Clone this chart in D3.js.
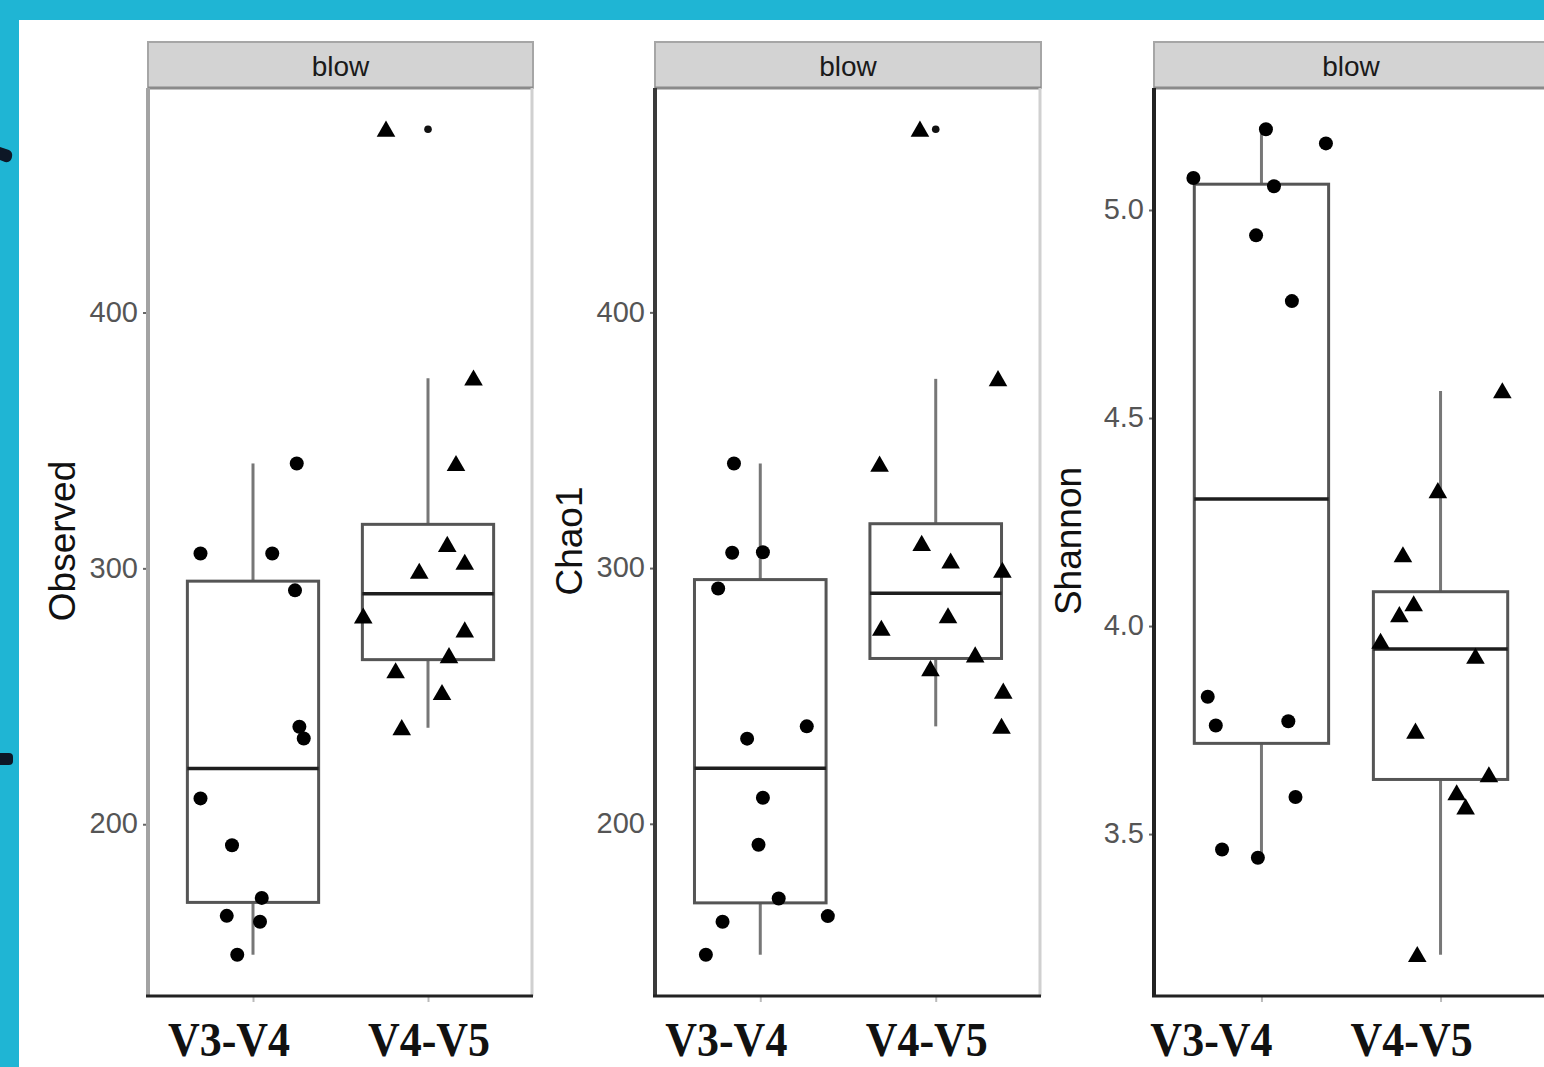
<!DOCTYPE html>
<html>
<head>
<meta charset="utf-8">
<script src="https://cdn.jsdelivr.net/npm/d3@7"></script>
<style>
  body { margin: 0; background: #1fb5d4; }
  svg { display: block; }
</style>
</head>
<body>
<svg id="chart" width="1544" height="1067"></svg>
<script>
// ---- data ----
const groups = ["V3-V4", "V4-V5"];
const facetLabel = "blow";
const metrics = ["Observed", "Chao1", "Shannon"];

const observedV34 = [305.8, 305.8, 341.0, 291.4, 238.1, 233.5, 210.1, 191.8, 171.2, 164.2, 161.9, 149.0];
const observedV34Jitter = [-0.30, 0.11, 0.25, 0.24, 0.265, 0.29, -0.30, -0.12, 0.05, -0.15, 0.04, -0.09];
const observedV45 = [374.3, 340.9, 309.3, 302.3, 298.8, 281.3, 275.9, 265.8, 259.9, 251.4, 237.7, 471.6];
const observedV45Jitter = [0.26, 0.16, 0.11, 0.21, -0.05, -0.37, 0.21, 0.12, -0.185, 0.08, -0.15, -0.24];

const chao1V34 = [340.9, 306.0, 306.2, 292.0, 238.1, 233.3, 210.2, 191.8, 170.8, 163.9, 161.7, 148.8];
const chao1V34Jitter = [-0.15, -0.16, 0.015, -0.24, 0.265, -0.075, 0.015, -0.01, 0.105, 0.385, -0.215, -0.31];
const chao1V45 = [374.0, 340.6, 309.6, 302.7, 299.1, 281.3, 276.4, 266.0, 260.6, 251.8, 238.1, 471.6];
const chao1V45Jitter = [0.355, -0.32, -0.08, 0.085, 0.38, 0.07, -0.31, 0.225, -0.03, 0.385, 0.375, -0.09];

const shannonV34 = [5.194, 5.160, 5.077, 5.057, 4.939, 4.781, 3.830, 3.761, 3.771, 3.589, 3.463, 3.443];
const shannonV34Jitter = [0.025, 0.36, -0.38, 0.07, -0.03, 0.17, -0.30, -0.255, 0.15, 0.19, -0.22, -0.02];
const shannonV45 = [4.565, 4.325, 4.171, 4.053, 4.027, 3.963, 3.927, 3.747, 3.642, 3.599, 3.565, 3.210];
const shannonV45Jitter = [0.345, -0.015, -0.21, -0.15, -0.23, -0.335, 0.195, -0.14, 0.27, 0.09, 0.14, -0.13];

const countTicks = [200, 300, 400];
const shannonTicks = [3.5, 4.0, 4.5, 5.0];

// ---- layout ----
const W = 1544, H = 1067;
const stripTop = 42, plotTop = 88, plotBottom = 996;
const panelX = [[148, 533], [655, 1041], [1154, 1548]];
const labelShift = [[-24, 1], [-34, -9], [-50, -29]];
const leftAxisColor = ["#a3a3a3", "#3a3a3a", "#222"];

const panels = [
  { metric: metrics[0], series: [[observedV34, observedV34Jitter], [observedV45, observedV45Jitter]], ticks: countTicks, fmt: d3.format("d") },
  { metric: metrics[1], series: [[chao1V34, chao1V34Jitter], [chao1V45, chao1V45Jitter]], ticks: countTicks, fmt: d3.format("d") },
  { metric: metrics[2], series: [[shannonV34, shannonV34Jitter], [shannonV45, shannonV45Jitter]], ticks: shannonTicks, fmt: d3.format(".1f") }
];

const svg = d3.select("#chart");

// cyan frame + white page
svg.append("rect").attr("width", W).attr("height", H).attr("fill", "#1fb5d4");
svg.append("rect").attr("x", 19).attr("y", 20).attr("width", W - 19).attr("height", H - 20).attr("fill", "#fff");
// dark fragments on the frame edge
svg.append("path").attr("d", "M0,147 L9,150 Q13,152 12,157 Q11,163 5,162 L0,160 Z").attr("fill", "#0d1726");
svg.append("rect").attr("x", -4).attr("y", 753).attr("width", 17).attr("height", 12).attr("rx", 4).attr("fill", "#0d1726");

function boxStats(values) {
  const s = values.slice().sort(d3.ascending);
  const q1 = d3.quantile(s, 0.25), med = d3.quantile(s, 0.5), q3 = d3.quantile(s, 0.75);
  const iqr = q3 - q1;
  const lo = d3.min(s.filter(v => v >= q1 - 1.5 * iqr));
  const hi = d3.max(s.filter(v => v <= q3 + 1.5 * iqr));
  const outliers = s.filter(v => v < lo || v > hi);
  return { q1, med, q3, lo, hi, outliers };
}

const tri = d3.symbol().type(d3.symbolTriangle).size(150);

panels.forEach((p, i) => {
  const [x0, x1] = panelX[i];
  const all = p.series.flatMap(s => s[0]);
  const ext = d3.extent(all);
  const pad = (ext[1] - ext[0]) * 0.05;

  const x = d3.scaleLinear().domain([0.4, 2.6]).range([x0, x1]);
  const y = d3.scaleLinear().domain([ext[0] - pad, ext[1] + pad]).range([plotBottom, plotTop]);
  const unit = x(2) - x(1);

  const g = svg.append("g");

  // strip
  g.append("rect")
    .attr("x", x0).attr("y", stripTop)
    .attr("width", x1 - x0).attr("height", plotTop - stripTop)
    .attr("fill", "#d3d3d3").attr("stroke", "#a6a6a6").attr("stroke-width", 2);
  g.append("line")
    .attr("x1", x0).attr("x2", x1).attr("y1", plotTop).attr("y2", plotTop)
    .attr("stroke", "#8a8a8a").attr("stroke-width", 3);
  g.append("text")
    .attr("x", (x0 + x1) / 2).attr("y", stripTop + 34)
    .attr("text-anchor", "middle")
    .attr("font-family", "Liberation Sans, Arial, sans-serif")
    .attr("font-size", 28).attr("fill", "#1a1a1a")
    .text(facetLabel);

  // right border
  g.append("line")
    .attr("x1", x1 - 1).attr("x2", x1 - 1).attr("y1", plotTop).attr("y2", plotBottom)
    .attr("stroke", "#d0d0d0").attr("stroke-width", 3);

  // y axis
  const yAxis = g.append("g")
    .attr("transform", `translate(${x0},0)`)
    .call(d3.axisLeft(y).tickValues(p.ticks).tickFormat(p.fmt).tickSize(5).tickPadding(5));
  yAxis.select(".domain").remove();
  yAxis.selectAll(".tick line").attr("stroke", "#666").attr("stroke-width", 2);
  yAxis.selectAll(".tick text")
    .attr("font-family", "Liberation Sans, Arial, sans-serif")
    .attr("font-size", 29).attr("fill", "#555").attr("dy", "0.3em");
  g.append("line")
    .attr("x1", x0).attr("x2", x0).attr("y1", plotTop).attr("y2", plotBottom + 1)
    .attr("stroke", leftAxisColor[i]).attr("stroke-width", 4);

  // x axis
  const xAxis = g.append("g")
    .attr("transform", `translate(0,${plotBottom})`)
    .call(d3.axisBottom(x).tickValues([1, 2]).tickFormat("").tickSize(6));
  xAxis.select(".domain").remove();
  xAxis.selectAll(".tick line").attr("stroke", "#bbb").attr("stroke-width", 2);
  g.append("line")
    .attr("x1", x0 - 2).attr("x2", x1).attr("y1", plotBottom).attr("y2", plotBottom)
    .attr("stroke", "#222").attr("stroke-width", 3);

  groups.forEach((grp, k) => {
    g.append("text")
      .attr("transform", `translate(${x(k + 1) + labelShift[i][k]},1056) scale(1,1.1)`)
      .attr("text-anchor", "middle")
      .attr("font-family", "Liberation Serif, Times New Roman, serif")
      .attr("font-weight", "bold")
      .attr("font-size", 44).attr("fill", "#111")
      .text(grp);
  });

  // y title
  g.append("text")
    .attr("transform", `translate(${x0 - 73},${(plotTop + plotBottom) / 2 - 1}) rotate(-90)`)
    .attr("text-anchor", "middle")
    .attr("font-family", "Liberation Sans, Arial, sans-serif")
    .attr("font-size", 37).attr("fill", "#111")
    .text(p.metric);

  // boxplots
  p.series.forEach(([vals], k) => {
    const st = boxStats(vals);
    const cx = x(k + 1), hw = unit * 0.375;
    g.append("line")
      .attr("x1", cx).attr("x2", cx).attr("y1", y(st.q3)).attr("y2", y(st.hi))
      .attr("stroke", "#777").attr("stroke-width", 3);
    g.append("line")
      .attr("x1", cx).attr("x2", cx).attr("y1", y(st.q1)).attr("y2", y(st.lo))
      .attr("stroke", "#777").attr("stroke-width", 3);
    g.append("rect")
      .attr("x", cx - hw).attr("y", y(st.q3))
      .attr("width", 2 * hw).attr("height", y(st.q1) - y(st.q3))
      .attr("fill", "#fff").attr("stroke", "#555").attr("stroke-width", 3);
    g.append("line")
      .attr("x1", cx - hw).attr("x2", cx + hw).attr("y1", y(st.med)).attr("y2", y(st.med))
      .attr("stroke", "#1e1e1e").attr("stroke-width", 3.5);
    g.selectAll(null).data(st.outliers).join("circle")
      .attr("cx", cx).attr("cy", d => y(d)).attr("r", 3.8).attr("fill", "#111");
  });

  // jittered points
  p.series.forEach(([vals, jit], k) => {
    const pts = vals.map((v, j) => ({ v, j: jit[j] }));
    if (k === 0) {
      g.selectAll(null).data(pts).join("circle")
        .attr("cx", d => x(k + 1 + d.j)).attr("cy", d => y(d.v))
        .attr("r", 7).attr("fill", "#000");
    } else {
      g.selectAll(null).data(pts).join("path")
        .attr("d", tri)
        .attr("transform", d => `translate(${x(k + 1 + d.j)},${y(d.v) + 2})`)
        .attr("fill", "#000");
    }
  });
});
</script>
</body>
</html>
